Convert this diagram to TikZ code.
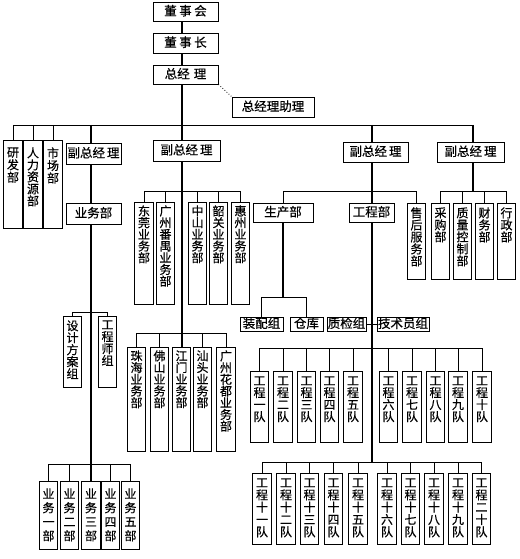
\documentclass[tikz,border=0pt]{standalone}
\usepackage{fontspec}
\setmainfont{Noto Sans CJK SC}[FakeBold=0.5]
\newcommand\vcol[4]{\parbox[c][#3pt][t]{12pt}{\centering\fontsize{12pt}{#2pt}\selectfont\vspace*{#1pt}#4\par}}
\begin{document}
\begin{tikzpicture}[x=1pt,y=-1pt,
  hb/.style={draw, line width=0.8pt, inner sep=0pt, text height=10pt, text depth=2pt, font=\fontsize{12.5pt}{14pt}\selectfont},
  vb/.style={draw, line width=0.8pt, inner xsep=3.3pt, inner ysep=0pt, anchor=north},
  ln/.style={line width=0.8pt},
  trunk/.style={line width=2.2pt}]
\useasboundingbox (0,0) rectangle (519,559);
% horizontal boxes
\node[hb, minimum width=65pt, minimum height=19pt] (dsh) at (185.5,11.5) {董\hspace{2.5pt}事\hspace{2.5pt}会};
\node[hb, minimum width=65pt, minimum height=20pt] (dsz) at (185.5,43) {董\hspace{2.5pt}事\hspace{2.5pt}长};
\node[hb, minimum width=65pt, minimum height=19pt] (zjl) at (185.5,74.5) {总经\hspace{4pt}理};
\node[hb, minimum width=82pt, minimum height=20pt] (zl) at (273,107) {总经理助理};
\node[hb, minimum width=55pt, minimum height=21pt] (f1) at (93.5,153.5) {副总经\hspace{2pt}理};
\node[hb, minimum width=55pt, minimum height=21pt] (ywb) at (93.5,213.5) {业务部};
\node[hb, minimum width=67pt, minimum height=21pt] (f2) at (186.5,150.5) {副总经\hspace{2pt}理};
\node[hb, minimum width=65pt, minimum height=20pt] (f3) at (375.5,152) {副总经\hspace{2pt}理};
\node[hb, minimum width=67pt, minimum height=20pt] (f4) at (470.5,152) {副总经\hspace{2pt}理};
\node[hb, minimum width=60pt, minimum height=19pt] (scb) at (283,212.5) {生产部};
\node[hb, minimum width=45pt, minimum height=19pt] (gcb) at (371.5,212.5) {工程部};
\node[hb, minimum width=43pt, minimum height=14pt] (zp) at (261.5,324) {装配组};
\node[hb, minimum width=33pt, minimum height=14pt] (ck) at (306.5,324) {仓库};
\node[hb, minimum width=39pt, minimum height=14pt] (zj) at (346.5,324) {质检组};
\node[hb, minimum width=52pt, minimum height=14pt] (js) at (403,324) {技术员组};
% vertical boxes
\node[vb] (yf) at (13,140) {\vcol{7}{12.5}{88}{研\\发\\部}};
\node[vb] (rl) at (33,140) {\vcol{7}{12}{88}{人\\力\\资\\源\\部}};
\node[vb] (sc) at (53,140) {\vcol{7}{12.5}{88}{市\\场\\部}};
\node[vb] (dg) at (144,202) {\vcol{3}{11.7}{102}{东\\莞\\业\\务\\部}};
\node[vb] (py) at (165.5,202) {\vcol{3}{11.7}{102}{广\\州\\番\\禺\\业\\务\\部}};
\node[vb] (zs) at (197.5,202) {\vcol{3}{11.7}{102}{中\\山\\业\\务\\部}};
\node[vb] (sg) at (218.5,202) {\vcol{3}{11.7}{102}{韶\\关\\业\\务\\部}};
\node[vb] (hz) at (240.5,202) {\vcol{3}{11.7}{102}{惠\\州\\业\\务\\部}};
\node[vb] (sh) at (416.5,203) {\vcol{4}{12}{76}{售\\后\\服\\务\\部}};
\node[vb] (cg) at (440.5,203) {\vcol{4}{12}{76}{采\\购\\部}};
\node[vb] (zk) at (462.5,203) {\vcol{4}{12}{76}{质\\量\\控\\制\\部}};
\node[vb] (cw) at (484.5,203) {\vcol{4}{12}{76}{财\\务\\部}};
\node[vb] (xz) at (506.5,203) {\vcol{4}{12}{76}{行\\政\\部}};
\node[vb] (sj) at (72.5,316) {\vcol{4}{12}{71}{设\\计\\方\\案\\组}};
\node[vb] (gs) at (107.5,316) {\vcol{4}{12}{71}{工\\程\\师\\组}};
\node[vb] (zh) at (136.5,347) {\vcol{3}{11.7}{104}{珠\\海\\业\\务\\部}};
\node[vb] (fs) at (159.5,347) {\vcol{3}{11.7}{104}{佛\\山\\业\\务\\部}};
\node[vb] (jm) at (181.5,347) {\vcol{3}{11.7}{104}{江\\门\\业\\务\\部}};
\node[vb] (st) at (202.5,347) {\vcol{3}{11.7}{104}{汕\\头\\业\\务\\部}};
\node[vb] (hd) at (226,347) {\vcol{3}{11.7}{104}{广\\州\\花\\都\\业\\务\\部}};
\foreach \n/\x/\t in {1/259.5/一,2/283/二,3/306.5/三,4/329.5/四,5/353/五,6/388.5/六,7/412/七,8/435.5/八,9/458/九,10/482/十}
  \node[vb] (g\n) at (\x,371) {\vcol{5}{12}{71}{工\\程\\\t\\队}};
\foreach \n/\x/\t in {11/262/{十\\一},12/286/{十\\二},13/309.5/{十\\三},14/333.5/{十\\四},15/358/{十\\五},16/387/{十\\六},17/410.5/{十\\七},18/434/{十\\八},19/458/{十\\九},20/481.5/{二\\十}}
  \node[vb] (g\n) at (\x,473) {\vcol{5}{12.3}{71}{工\\程\\\t\\队}};
\foreach \n/\x/\t in {1/48.5/一,2/69.5/二,3/91/三,4/110.5/四,5/130.5/五}
  \node[vb] (y\n) at (\x,481) {\vcol{7}{14}{68}{业\\务\\\t\\部}};
% reference coordinates
\coordinate (xa) at (182,0);
\coordinate (xb) at (91,0);
\coordinate (xc) at (372,0);
\coordinate (xd) at (473,0);
\coordinate (ya) at (0,125);
\coordinate (yb) at (0,191);
\coordinate (yc) at (0,297);
\coordinate (yd) at (0,348);
\coordinate (ye) at (0,462);
\coordinate (yg) at (0,312);
\coordinate (yh) at (0,333);
\coordinate (yi) at (0,464);
% trunks
\draw[trunk] (dsh.south -| xa) -- (dsz.north -| xa);
\draw[trunk] (dsz.south -| xa) -- (zjl.north -| xa);
\draw[trunk] (zjl.south -| xa) -- (f2.north -| xa);
\draw[trunk] (f2.south -| xa) -- (jm.north -| xa);
\draw[trunk] (xb |- ya) -- (f1.north -| xb);
\draw[trunk] (f1.south -| xb) -- (ywb.north -| xb);
\draw[trunk] (ywb.south -| xb) -- (y3.north -| xb);
\draw[trunk] (xc |- ya) -- (f3.north -| xc);
\draw[trunk] (f3.south -| xc) -- (gcb.north -| xc);
\draw[trunk] (gcb.south -| xc) -- (xc |- ye);
\draw[trunk] (xd |- ya) -- (f4.north -| xd);
\draw[trunk] (f4.south -| xd) -- (xd |- yb);
\draw[trunk] (scb.south) -- (scb.south |- yc);
% dotted assistant link
\draw[ln, dotted] (zjl.south east) -- (zl.north west);
% buses and branches
\draw[ln] (yf.north |- ya) -- (xd |- ya);
\foreach \b in {yf,rl,sc} \draw[ln] (\b.north |- ya) -- (\b.north);
\draw[ln] (dg.north |- yb) -- (hz.north |- yb);
\foreach \b in {dg,py,zs,sg,hz} \draw[ln] (\b.north |- yb) -- (\b.north);
\draw[ln] (scb.north |- yb) -- (sh.north |- yb);
\foreach \b in {scb,sh} \draw[ln] (\b.north |- yb) -- (\b.north);
\draw[ln] (cg.north |- yb) -- (xz.north |- yb);
\foreach \b in {cg,zk,cw,xz} \draw[ln] (\b.north |- yb) -- (\b.north);
\draw[ln] (zp.north |- yc) -- (ck.north |- yc);
\foreach \b in {zp,ck} \draw[ln] (\b.north |- yc) -- (\b.north);
\draw[ln] (zj.east) -- (js.west);
\draw[ln] (g1.north |- yd) -- (g10.north |- yd);
\foreach \n in {1,...,10} \draw[ln] (g\n.north |- yd) -- (g\n.north);
\draw[ln] (g11.north |- ye) -- (g20.north |- ye);
\foreach \n in {11,...,20} \draw[ln] (g\n.north |- ye) -- (g\n.north);
\draw[ln] (sj.north |- yg) -- (gs.north |- yg);
\foreach \b in {sj,gs} \draw[ln] (\b.north |- yg) -- (\b.north);
\draw[ln] (zh.north |- yh) -- (hd.north |- yh);
\foreach \b in {zh,fs,jm,st,hd} \draw[ln] (\b.north |- yh) -- (\b.north);
\draw[ln] (y1.north |- yi) -- (y5.north |- yi);
\foreach \n in {1,...,5} \draw[ln] (y\n.north |- yi) -- (y\n.north);
\end{tikzpicture}
\end{document}
